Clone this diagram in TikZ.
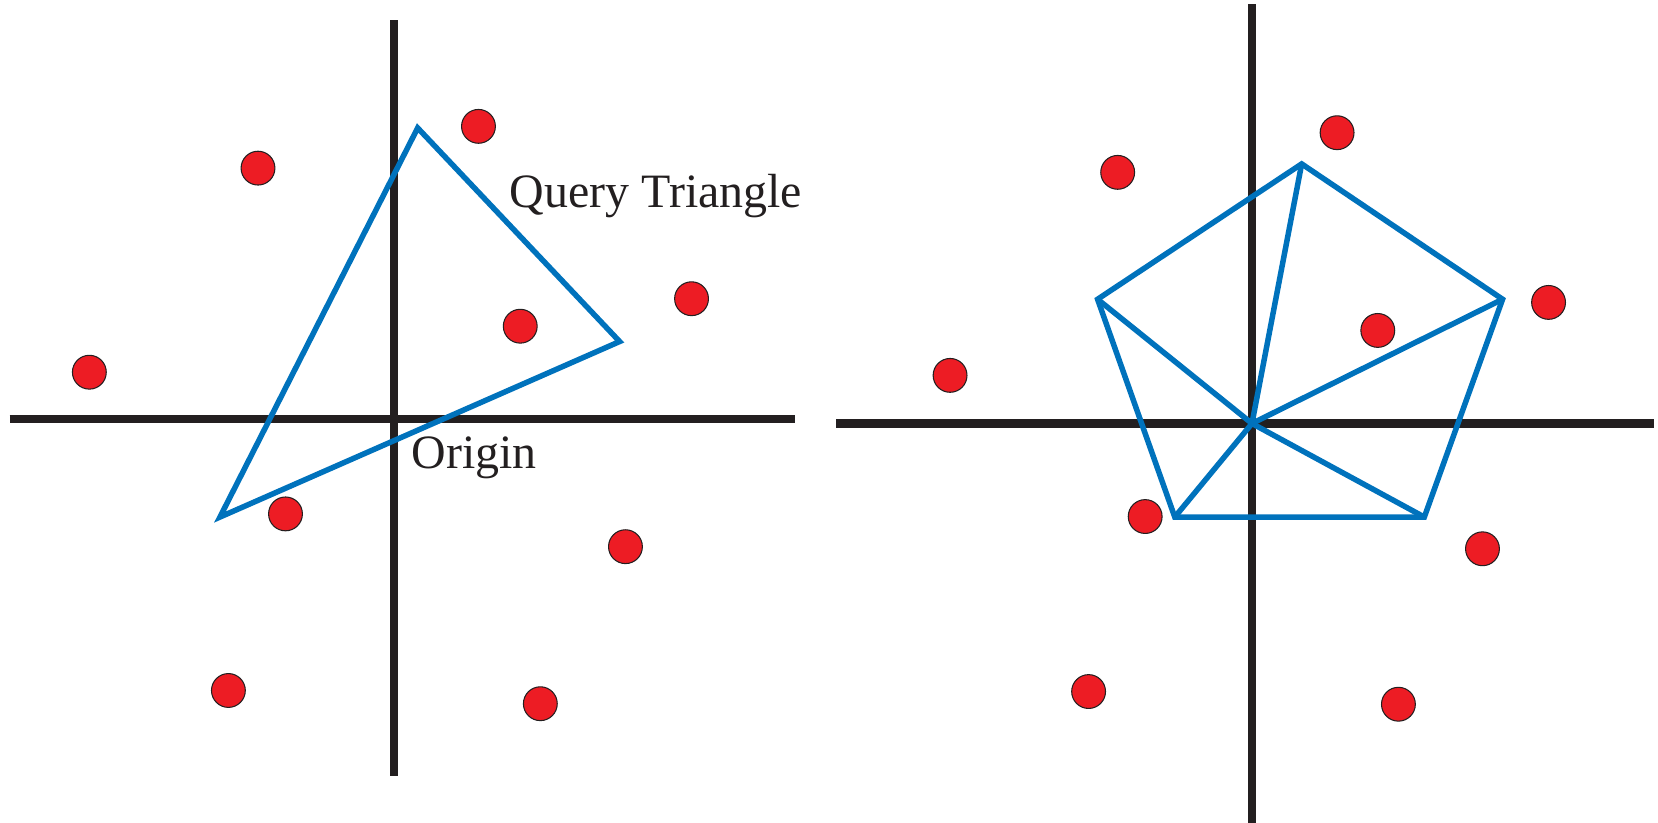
\documentclass[tikz,border=0pt]{standalone}
\usepackage{fontspec}
\setmainfont{Liberation Serif}
\definecolor{axisblack}{HTML}{231F20}
\definecolor{qblue}{HTML}{0072BC}
\definecolor{dotred}{HTML}{ED1C24}
\begin{document}
\begin{tikzpicture}[x=1pt,y=-1pt,
  axis/.style={draw=axisblack,line width=7.6pt},
  qline/.style={draw=qblue,line width=5.2pt,line join=miter},
  dot/.style={circle,fill=dotred,draw=axisblack,line width=1pt,minimum size=32pt,inner sep=0pt},
  lbl/.style={anchor=base west,inner sep=0pt,text=axisblack,font=\fontsize{45.3}{54}\selectfont}]
\useasboundingbox (0,0) rectangle (1568,778);
% left panel axes
\coordinate (lvt) at (373,19);
\coordinate (lvb) at (373,734);
\coordinate (lhl) at (9,396.5);
\coordinate (lhr) at (752,396.5);
\draw[axis] (lvt) -- (lvb);
\draw[axis] (lhl) -- (lhr);
% query triangle
\coordinate (ta) at (395,121);
\coordinate (tb) at (586,323);
\coordinate (tc) at (208,489);
\draw[qline] (ta) -- (tb) -- (tc) -- cycle;
% left dots
\node[dot] (l1) at (452.5,119.5) {};
\node[dot] (l2) at (244,159) {};
\node[dot] (l3) at (654,282.5) {};
\node[dot] (l4) at (492,308.5) {};
\node[dot] (l5) at (84.5,352) {};
\node[dot] (l6) at (270,486) {};
\node[dot] (l7) at (591.5,517) {};
\node[dot] (l8) at (216,653) {};
\node[dot] (l9) at (511,665.5) {};
% labels
\node[lbl] (qt) at (482,196) {Query Triangle};
\node[lbl] (org) at (389,443) {Origin};
% right panel axes
\coordinate (rvt) at (1184,4);
\coordinate (rvb) at (1184,778);
\coordinate (rhl) at (791,400.5);
\coordinate (rhr) at (1564,400.5);
\draw[axis] (rvt) -- (rvb);
\draw[axis] (rhl) -- (rhr);
% pentagon
\coordinate (pc) at (1184,400.5);
\coordinate (p1) at (1231,155);
\coordinate (p2) at (1421,283);
\coordinate (p3) at (1347,489);
\coordinate (p4) at (1111,489);
\coordinate (p5) at (1038,283);
\draw[qline] (p1) -- (p2) -- (p3) -- (p4) -- (p5) -- cycle;
\draw[qline] (pc) -- (p1);
\draw[qline] (pc) -- (p2);
\draw[qline] (pc) -- (p3);
\draw[qline] (pc) -- (p4);
\draw[qline] (pc) -- (p5);
% right dots
\node[dot] (r1) at (1264.5,125.5) {};
\node[dot] (r2) at (1057,163) {};
\node[dot] (r3) at (1464.5,286) {};
\node[dot] (r4) at (1303,312.5) {};
\node[dot] (r5) at (898.5,355) {};
\node[dot] (r6) at (1083,488.5) {};
\node[dot] (r7) at (1402,519) {};
\node[dot] (r8) at (1029.5,654) {};
\node[dot] (r9) at (1322.5,666) {};
\end{tikzpicture}
\end{document}
